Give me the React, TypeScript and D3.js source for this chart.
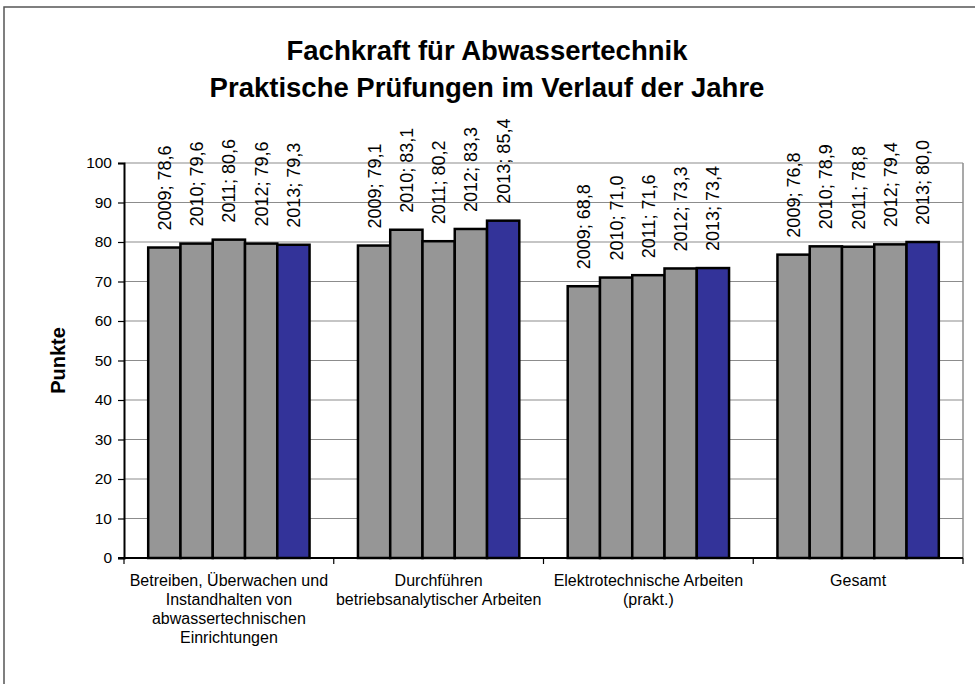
import * as d3 from "d3";
import React, { useEffect, useRef } from "react";

const categories = [
  ["Betreiben, Überwachen und", "Instandhalten von", "abwassertechnischen", "Einrichtungen"],
  ["Durchführen", "betriebsanalytischer Arbeiten"],
  ["Elektrotechnische Arbeiten", "(prakt.)"],
  ["Gesamt"],
];
const years = ["2009", "2010", "2011", "2012", "2013"];
const values2009 = [78.6, 79.1, 68.8, 76.8];
const values2010 = [79.6, 83.1, 71.0, 78.9];
const values2011 = [80.6, 80.2, 71.6, 78.8];
const values2012 = [79.6, 83.3, 73.3, 79.4];
const values2013 = [79.3, 85.4, 73.4, 80.0];
const yTicks = [0, 10, 20, 30, 40, 50, 60, 70, 80, 90, 100];

const series = [values2009, values2010, values2011, values2012, values2013];

const App = () => {
  const svgRef = useRef(null);

  useEffect(() => {
    const svgWidth = 975;
    const svgHeight = 684;
    const marginLeft = 124;
    const marginRight = 12;
    const marginTop = 163;
    const marginBottom = 126;
    const width = svgWidth - marginLeft - marginRight;
    const height = svgHeight - marginTop - marginBottom;
    const font = "Arial, 'Liberation Sans', sans-serif";

    const svg = d3.select(svgRef.current);
    svg.selectAll("*").remove();
    svg.attr("width", svgWidth).attr("height", svgHeight).style("background", "#fff");

    // chart frame
    svg
      .append("path")
      .attr("d", `M4,${svgHeight + 5}V7H${svgWidth + 5}`)
      .attr("fill", "none")
      .attr("stroke", "#555")
      .attr("stroke-width", 1.5);

    // title
    const title = svg
      .append("text")
      .attr("text-anchor", "middle")
      .style("font-family", font)
      .style("font-weight", "bold")
      .style("font-size", "27.5px")
      .attr("fill", "#000");
    title.append("tspan").attr("x", 487).attr("y", 60).text("Fachkraft für Abwassertechnik");
    title.append("tspan").attr("x", 487).attr("y", 97).text("Praktische Prüfungen im Verlauf der Jahre");

    const x0 = d3
      .scaleBand()
      .domain(categories.map((_c, i) => String(i)))
      .range([0, width]);
    const barW = x0.bandwidth() / 6.5;
    const x1 = d3
      .scaleBand()
      .domain(years)
      .range([barW * 0.75, barW * 5.75]);
    const y = d3.scaleLinear().domain([0, 100]).range([height, 0]);

    const g = svg.append("g").attr("transform", `translate(${marginLeft},${marginTop})`);

    // gridlines
    g.selectAll(".grid")
      .data(yTicks.filter((t) => t > 0))
      .join("line")
      .attr("x1", 0)
      .attr("x2", width)
      .attr("y1", (d) => y(d))
      .attr("y2", (d) => y(d))
      .attr("stroke", "#8c8c8c")
      .attr("stroke-width", 1.2);

    // plot area right border
    g.append("line")
      .attr("x1", width)
      .attr("x2", width)
      .attr("y1", 0)
      .attr("y2", height)
      .attr("stroke", "#8c8c8c")
      .attr("stroke-width", 1.5);

    // bars
    categories.forEach((_c, ci) => {
      const grp = g.append("g").attr("transform", `translate(${x0(String(ci))},0)`);
      years.forEach((yr, si) => {
        const v = series[si][ci];
        grp
          .append("rect")
          .attr("x", x1(yr) as number)
          .attr("y", y(v))
          .attr("width", x1.bandwidth())
          .attr("height", height - y(v))
          .attr("fill", si === 4 ? "#333399" : "#969696")
          .attr("stroke", "#000")
          .attr("stroke-width", 2.5);
        const cx = (x1(yr) as number) + x1.bandwidth() / 2;
        grp
          .append("text")
          .attr("transform", `translate(${cx + 6.5},${y(v) - 17}) rotate(-90)`)
          .style("font-family", font)
          .style("font-size", "18px")
          .attr("fill", "#000")
          .text(`${yr}; ${d3.format(".1f")(v).replace(".", ",")}`);
      });
    });

    // y axis
    const yAxis = g
      .append("g")
      .call(d3.axisLeft(y).tickValues(yTicks).tickSize(6).tickPadding(6));
    yAxis.select(".domain").attr("stroke", "#000").attr("stroke-width", 2);
    yAxis.selectAll(".tick line").attr("stroke", "#000").attr("stroke-width", 1.2);
    yAxis
      .selectAll(".tick text")
      .style("font-family", font)
      .style("font-size", "15.5px")
      .attr("fill", "#000");

    // x axis
    const xAxis = g.append("g").attr("transform", `translate(0,${height})`);
    xAxis
      .append("line")
      .attr("x1", -6)
      .attr("x2", width)
      .attr("stroke", "#000")
      .attr("stroke-width", 2);
    xAxis
      .selectAll(".xtick")
      .data(d3.range(categories.length + 1))
      .join("line")
      .attr("x1", (d) => d * x0.step())
      .attr("x2", (d) => d * x0.step())
      .attr("y1", 0)
      .attr("y2", 6)
      .attr("stroke", "#000")
      .attr("stroke-width", 1.2);

    categories.forEach((lines, ci) => {
      const t = xAxis
        .append("text")
        .attr("text-anchor", "middle")
        .style("font-family", font)
        .style("font-size", "16px")
        .attr("fill", "#000");
      lines.forEach((ln, li) => {
        t.append("tspan")
          .attr("x", (x0(String(ci)) as number) + x0.bandwidth() / 2)
          .attr("y", 28 + li * 19)
          .text(ln);
      });
    });

    // y label
    svg
      .append("text")
      .attr("transform", `translate(65,${marginTop + height / 2}) rotate(-90)`)
      .attr("text-anchor", "middle")
      .style("font-family", font)
      .style("font-weight", "bold")
      .style("font-size", "20px")
      .attr("fill", "#000")
      .text("Punkte");
  }, []);

  return (
    <svg
      ref={svgRef}
      style={{ position: "absolute", left: 0, top: 0, display: "block" }}
    ></svg>
  );
};

export default App;
